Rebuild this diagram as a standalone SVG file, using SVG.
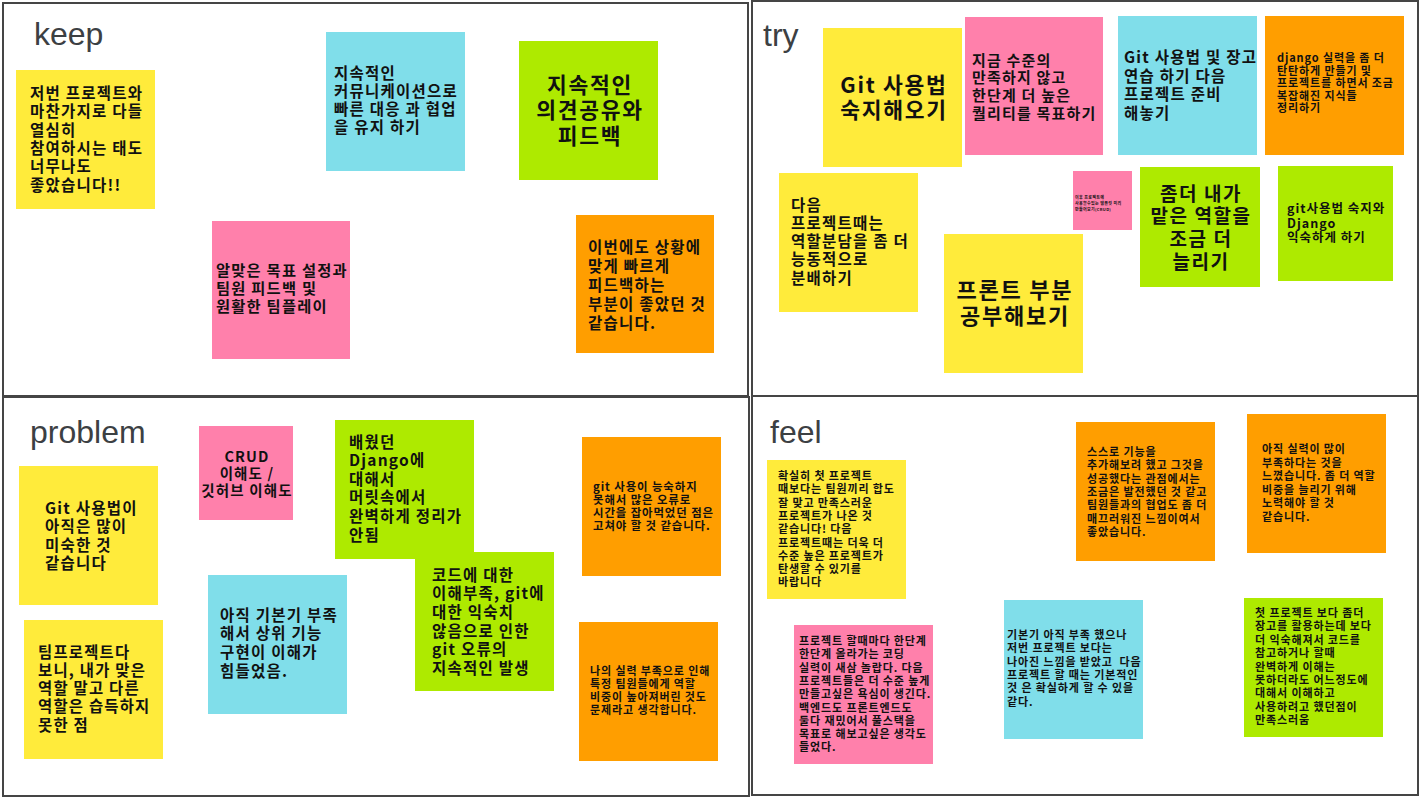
<svg xmlns="http://www.w3.org/2000/svg" width="1422" height="800" viewBox="0 0 1422 800">
<style>
.frame{fill:none;stroke:#454545;stroke-width:2}
.title{font-family:"Liberation Sans",Arial,sans-serif;font-size:32px;fill:#3c4043}
.t{font-family:"Noto Sans CJK KR","Noto Sans",sans-serif;font-weight:bold;fill:#111;letter-spacing:0.08em}
.m{text-anchor:middle}
.y{fill:#FFEB3B}.c{fill:#80DEEA}.g{fill:#AEEA00}.p{fill:#FF80AB}.o{fill:#FF9E00}
</style>
<rect width="1422" height="800" fill="#fff"/>
<g id="frames">
<rect class="frame" x="3" y="3" width="745" height="393"/>
<rect class="frame" x="752" y="1" width="666" height="395"/>
<rect class="frame" x="3" y="397" width="746" height="399"/>
<rect class="frame" x="752" y="396" width="666" height="399"/>
<text class="title" x="34" y="45">keep</text>
<text class="title" x="763" y="46">try</text>
<text class="title" x="30" y="443">problem</text>
<text class="title" x="770" y="443">feel</text>
</g>
<g id="connectors"></g>

<g id="keep-1"><rect class="y" x="16" y="70" width="139" height="139"/>
<text class="t" font-size="15.5" x="30" y="99"><tspan x="30">저번 프로젝트와</tspan><tspan x="30" dy="18.3">마찬가지로 다들</tspan><tspan x="30" dy="18.3">열심히</tspan><tspan x="30" dy="18.3">참여하시는 태도</tspan><tspan x="30" dy="18.3">너무나도</tspan><tspan x="30" dy="18.3">좋았습니다!!</tspan></text></g>
<g id="keep-2"><rect class="c" x="326" y="32" width="139" height="139"/>
<text class="t" font-size="15.5" x="334" y="78.5"><tspan x="334">지속적인</tspan><tspan x="334" dy="18.3">커뮤니케이션으로</tspan><tspan x="334" dy="18.3">빠른 대응 과 협업</tspan><tspan x="334" dy="18.3">을 유지 하기</tspan></text></g>
<g id="keep-3"><rect class="g" x="519" y="41" width="139" height="139"/>
<text class="t m" font-size="21.5" x="590" y="92.5"><tspan x="590">지속적인</tspan><tspan x="590" dy="25.5">의견공유와</tspan><tspan x="590" dy="25.5">피드백</tspan></text></g>
<g id="keep-4"><rect class="p" x="212" y="221" width="138" height="138"/>
<text class="t" font-size="15.3" x="216" y="275.5"><tspan x="216">알맞은 목표 설정과</tspan><tspan x="216" dy="18.3">팀원 피드백 및</tspan><tspan x="216" dy="18.3">원활한 팀플레이</tspan></text></g>
<g id="keep-5"><rect class="o" x="576" y="215" width="138" height="138"/>
<text class="t" font-size="15.5" x="588" y="252.5"><tspan x="588">이번에도 상황에</tspan><tspan x="588" dy="19">맞게 빠르게</tspan><tspan x="588" dy="19">피드백하는</tspan><tspan x="588" dy="19">부분이 좋았던 것</tspan><tspan x="588" dy="19">같습니다.</tspan></text></g>

<g id="try-1"><rect class="y" x="823" y="28" width="139" height="139"/>
<text class="t m" font-size="21.5" x="894" y="92.5"><tspan x="894">Git 사용법</tspan><tspan x="894" dy="25.5">숙지해오기</tspan></text></g>
<g id="try-2"><rect class="p" x="965" y="17" width="138" height="138"/>
<text class="t" font-size="15" x="972" y="65.5"><tspan x="972">지금 수준의</tspan><tspan x="972" dy="17.7">만족하지 않고</tspan><tspan x="972" dy="17.7">한단계 더 높은</tspan><tspan x="972" dy="17.7">퀄리티를 목표하기</tspan></text></g>
<g id="try-3"><rect class="c" x="1118" y="16" width="139" height="139"/>
<text class="t" font-size="15.5" x="1124" y="63"><tspan x="1124">Git 사용법 및 장고</tspan><tspan x="1124" dy="18.7">연습 하기 다음</tspan><tspan x="1124" dy="18.7">프로젝트 준비</tspan><tspan x="1124" dy="18.7">해놓기</tspan></text></g>
<g id="try-4"><rect class="o" x="1265" y="16" width="139" height="139"/>
<text class="t" font-size="11" x="1277" y="62"><tspan x="1277">django 실력을 좀 더</tspan><tspan x="1277" dy="12.5">탄탄하게 만들기 및</tspan><tspan x="1277" dy="12.5">프로젝트를 하면서 조금</tspan><tspan x="1277" dy="12.5">복잡해진 지식들</tspan><tspan x="1277" dy="12.5">정리하기</tspan></text></g>
<g id="try-5"><rect class="y" x="779" y="173" width="139" height="139"/>
<text class="t" font-size="15.5" x="791" y="210.5"><tspan x="791">다음</tspan><tspan x="791" dy="18.3">프로젝트때는</tspan><tspan x="791" dy="18.3">역할분담을 좀 더</tspan><tspan x="791" dy="18.3">능동적으로</tspan><tspan x="791" dy="18.3">분배하기</tspan></text></g>
<g id="try-6"><rect class="p" x="1073" y="171" width="59" height="59"/>
<text class="t" font-size="4" x="1075" y="199"><tspan x="1075">이후 프로젝트에</tspan><tspan x="1075" dy="6">사용할수있는 템플릿 미리</tspan><tspan x="1075" dy="6">만들어보기(CRUD)</tspan></text></g>
<g id="try-7"><rect class="y" x="944" y="234" width="139" height="139"/>
<text class="t m" font-size="22" x="1015" y="298"><tspan x="1015">프론트 부분</tspan><tspan x="1015" dy="25.5">공부해보기</tspan></text></g>
<g id="try-8"><rect class="g" x="1140" y="167" width="120" height="120"/>
<text class="t m" font-size="19" x="1201" y="200.5"><tspan x="1201">좀더 내가</tspan><tspan x="1201" dy="22.8">맡은 역할을</tspan><tspan x="1201" dy="22.8">조금 더</tspan><tspan x="1201" dy="22.8">늘리기</tspan></text></g>
<g id="try-9"><rect class="g" x="1278" y="166" width="115" height="115"/>
<text class="t" font-size="12.5" x="1287" y="213"><tspan x="1287">git사용법 숙지와</tspan><tspan x="1287" dy="14.5">Django</tspan><tspan x="1287" dy="14.5">익숙하게 하기</tspan></text></g>

<g id="problem-1"><rect class="p" x="199" y="426" width="94" height="94"/>
<text class="t m" font-size="14.5" x="247" y="461.5"><tspan x="247">CRUD</tspan><tspan x="247" dy="17">이해도 /</tspan><tspan x="247" dy="17">깃허브 이해도</tspan></text></g>
<g id="problem-2"><rect class="y" x="19" y="466" width="139" height="139"/>
<text class="t" font-size="15.5" x="45" y="513.5"><tspan x="45">Git 사용법이</tspan><tspan x="45" dy="18.5">아직은 많이</tspan><tspan x="45" dy="18.5">미숙한 것</tspan><tspan x="45" dy="18.5">같습니다</tspan></text></g>
<g id="problem-3"><rect class="y" x="24" y="620" width="139" height="139"/>
<text class="t" font-size="15.4" x="38" y="657.5"><tspan x="38">팀프로젝트다</tspan><tspan x="38" dy="18.3">보니, 내가 맞은</tspan><tspan x="38" dy="18.3">역할 말고 다른</tspan><tspan x="38" dy="18.3">역할은 습득하지</tspan><tspan x="38" dy="18.3">못한 점</tspan></text></g>
<g id="problem-4"><rect class="c" x="208" y="575" width="139" height="139"/>
<text class="t" font-size="15.5" x="220" y="620.5"><tspan x="220">아직 기본기 부족</tspan><tspan x="220" dy="18.7">해서 상위 기능</tspan><tspan x="220" dy="18.7">구현이 이해가</tspan><tspan x="220" dy="18.7">힘들었음.</tspan></text></g>
<g id="problem-5"><rect class="g" x="335" y="420" width="139" height="139"/>
<text class="t" font-size="15.5" x="349" y="447.5"><tspan x="349">배웠던</tspan><tspan x="349" dy="18.6">Django에</tspan><tspan x="349" dy="18.6">대해서</tspan><tspan x="349" dy="18.6">머릿속에서</tspan><tspan x="349" dy="18.6">완벽하게 정리가</tspan><tspan x="349" dy="18.6">안됨</tspan></text></g>
<g id="problem-6"><rect class="g" x="415" y="552" width="139" height="139"/>
<text class="t" font-size="15.5" x="432" y="580.5"><tspan x="432">코드에 대한</tspan><tspan x="432" dy="18.7">이해부족, git에</tspan><tspan x="432" dy="18.7">대한 익숙치</tspan><tspan x="432" dy="18.7">않음으로 인한</tspan><tspan x="432" dy="18.7">git 오류의</tspan><tspan x="432" dy="18.7">지속적인 발생</tspan></text></g>
<g id="problem-7"><rect class="o" x="582" y="437" width="139" height="139"/>
<text class="t" font-size="11.4" x="593" y="490.5"><tspan x="593">git 사용이 능숙하지</tspan><tspan x="593" dy="13">못해서 많은 오류로</tspan><tspan x="593" dy="13">시간을 잡아먹었던 점은</tspan><tspan x="593" dy="13">고쳐야 할 것 같습니다.</tspan></text></g>
<g id="problem-8"><rect class="o" x="579" y="622" width="139" height="139"/>
<text class="t" font-size="11" x="590" y="675"><tspan x="590">나의 실력 부족으로 인해</tspan><tspan x="590" dy="13">특정 팀원들에게 역할</tspan><tspan x="590" dy="13">비중이 높아져버린 것도</tspan><tspan x="590" dy="13">문제라고 생각합니다.</tspan></text></g>

<g id="feel-1"><rect class="y" x="767" y="460" width="139" height="139"/>
<text class="t" font-size="11" x="778" y="480"><tspan x="778">확실히 첫 프로젝트</tspan><tspan x="778" dy="13.3">때보다는 팀원끼리 합도</tspan><tspan x="778" dy="13.3">잘 맞고 만족스러운</tspan><tspan x="778" dy="13.3">프로젝트가 나온 것</tspan><tspan x="778" dy="13.3">같습니다! 다음</tspan><tspan x="778" dy="13.3">프로젝트때는 더욱 더</tspan><tspan x="778" dy="13.3">수준 높은 프로젝트가</tspan><tspan x="778" dy="13.3">탄생할 수 있기를</tspan><tspan x="778" dy="13.3">바랍니다</tspan></text></g>
<g id="feel-2"><rect class="p" x="794" y="625" width="139" height="139"/>
<text class="t" font-size="11" x="799" y="645"><tspan x="799">프로젝트 할때마다 한단계</tspan><tspan x="799" dy="13.3">한단계 올라가는 코딩</tspan><tspan x="799" dy="13.3">실력이 새삼 놀랍다. 다음</tspan><tspan x="799" dy="13.3">프로젝트들은 더 수준 높게</tspan><tspan x="799" dy="13.3">만들고싶은 욕심이 생긴다.</tspan><tspan x="799" dy="13.3">백엔드도 프론트엔드도</tspan><tspan x="799" dy="13.3">둘다 재밌어서 풀스택을</tspan><tspan x="799" dy="13.3">목표로 해보고싶은 생각도</tspan><tspan x="799" dy="13.3">들었다.</tspan></text></g>
<g id="feel-3"><rect class="c" x="1004" y="600" width="139" height="139"/>
<text class="t" font-size="11" x="1007" y="639"><tspan x="1007">기본기 아직 부족 했으나</tspan><tspan x="1007" dy="13.3">저번 프로젝트 보다는</tspan><tspan x="1007" dy="13.3" xml:space="preserve">나아진 느낌을 받았고  다음</tspan><tspan x="1007" dy="13.3">프로젝트 할 때는 기본적인</tspan><tspan x="1007" dy="13.3">것 은 확실하게 할 수 있을</tspan><tspan x="1007" dy="13.3">같다.</tspan></text></g>
<g id="feel-4"><rect class="o" x="1076" y="422" width="139" height="139"/>
<text class="t" font-size="11" x="1087" y="456"><tspan x="1087">스스로 기능을</tspan><tspan x="1087" dy="13.3">추가해보려 했고 그것을</tspan><tspan x="1087" dy="13.3">성공했다는 관점에서는</tspan><tspan x="1087" dy="13.3">조금은 발전했던 것 같고</tspan><tspan x="1087" dy="13.3">팀원들과의 협업도 좀 더</tspan><tspan x="1087" dy="13.3">매끄러워진 느낌이여서</tspan><tspan x="1087" dy="13.3">좋았습니다.</tspan></text></g>
<g id="feel-5"><rect class="o" x="1247" y="414" width="139" height="139"/>
<text class="t" font-size="11" x="1262" y="453"><tspan x="1262">아직 실력이 많이</tspan><tspan x="1262" dy="13.5">부족하다는 것을</tspan><tspan x="1262" dy="13.5">느꼈습니다. 좀 더 역할</tspan><tspan x="1262" dy="13.5">비중을 늘리기 위해</tspan><tspan x="1262" dy="13.5">노력해야 할 것</tspan><tspan x="1262" dy="13.5">같습니다.</tspan></text></g>
<g id="feel-6"><rect class="g" x="1244" y="598" width="139" height="139"/>
<text class="t" font-size="11" x="1255" y="617"><tspan x="1255">첫 프로젝트 보다 좀더</tspan><tspan x="1255" dy="13.4">장고를 활용하는데 보다</tspan><tspan x="1255" dy="13.4">더 익숙해져서 코드를</tspan><tspan x="1255" dy="13.4">참고하거나 할때</tspan><tspan x="1255" dy="13.4">완벽하게 이해는</tspan><tspan x="1255" dy="13.4">못하더라도 어느정도에</tspan><tspan x="1255" dy="13.4">대해서 이해하고</tspan><tspan x="1255" dy="13.4">사용하려고 했던점이</tspan><tspan x="1255" dy="13.4">만족스러움</tspan></text></g>
</svg>
